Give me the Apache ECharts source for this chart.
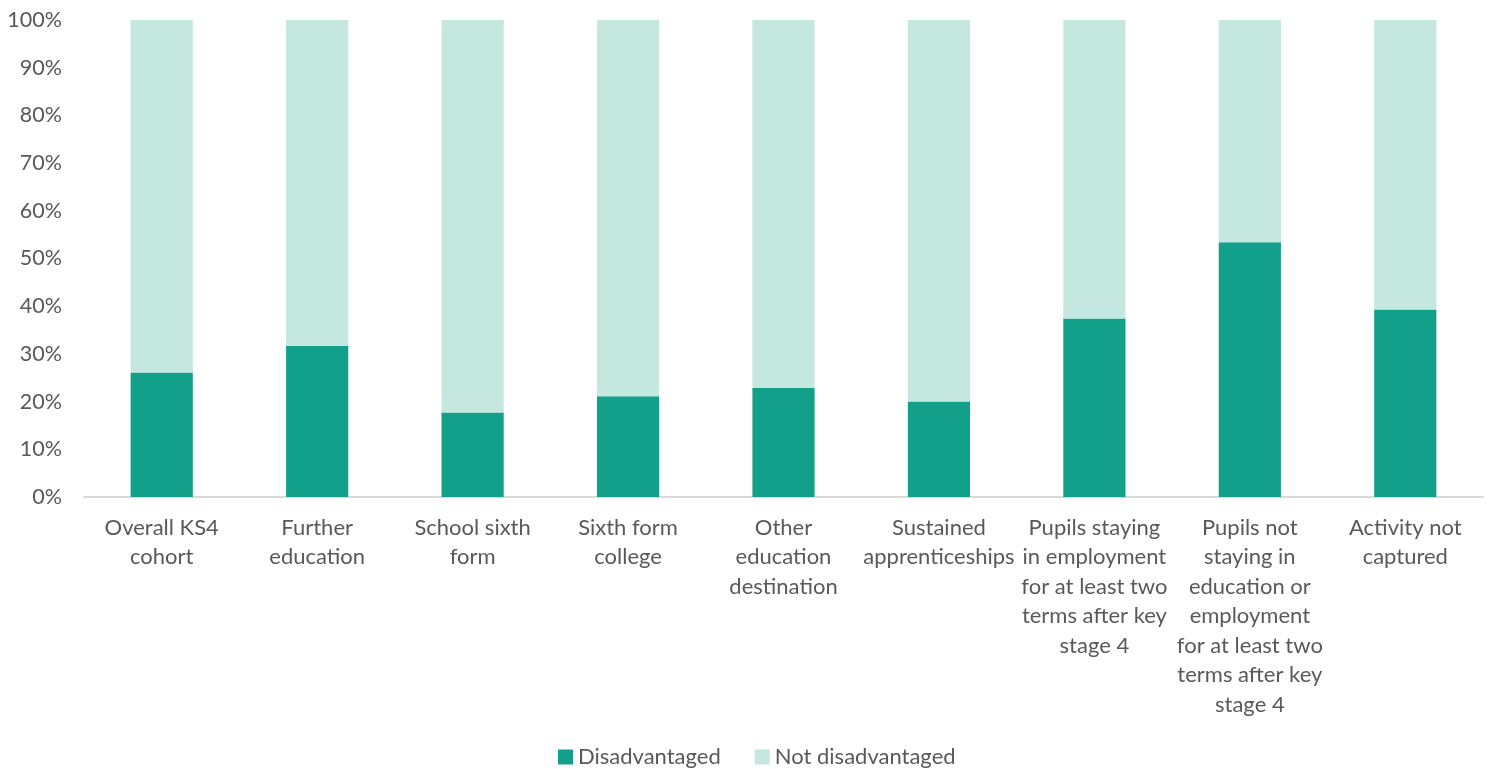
<!DOCTYPE html>
<html>
<head>
<meta charset="utf-8">
<script src="https://cdn.jsdelivr.net/npm/echarts@6/dist/echarts.min.js"></script>
<style>
  html, body { margin: 0; padding: 0; background: #fff; }
  #chart { width: 1488px; height: 769px; }
</style>
</head>
<body>
<div id="chart"></div>
<script>
// destination categories (line breaks as in the original)
const categories = [
  'Overall KS4\ncohort',
  'Further\neducation',
  'School sixth\nform',
  'Sixth form\ncollege',
  'Other\neducation\ndestination',
  'Sustained\napprenticeships',
  'Pupils staying\nin employment\nfor at least two\nterms after key\nstage 4',
  'Pupils not\nstaying in\neducation or\nemployment\nfor at least two\nterms after key\nstage 4',
  'Activity not\ncaptured'
];
const disadvantaged = [26.1, 31.7, 17.7, 21.1, 22.9, 20.0, 37.4, 53.4, 39.3];
const notDisadvantaged = [73.9, 68.3, 82.3, 78.9, 77.1, 80.0, 62.6, 46.6, 60.7];
const yTicks = [0, 10, 20, 30, 40, 50, 60, 70, 80, 90, 100];

const textColor = '#595959';
const font = 'Lato, "Open Sans", sans-serif';

let chart = echarts.init(document.getElementById('chart'));
chart.setOption({
  animation: false,
  textStyle: { fontFamily: font, color: textColor },
  grid: { left: 84, right: 5, top: 20, bottom: 272, containLabel: false },
  legend: {
    top: 746,
    left: 553,
    padding: [0, 5],
    itemWidth: 15,
    itemHeight: 15,
    itemGap: 34,
    icon: 'rect',
    textStyle: { fontSize: 22, color: textColor, fontFamily: font },
    data: ['Disadvantaged', 'Not disadvantaged']
  },
  xAxis: {
    type: 'category',
    data: categories,
    axisLine: { lineStyle: { color: '#d9d9d9', width: 2 } },
    axisTick: { show: false },
    axisLabel: {
      interval: 0,
      fontSize: 22,
      lineHeight: 29.5,
      margin: 16,
      color: textColor,
      fontFamily: font
    }
  },
  yAxis: {
    type: 'value',
    min: yTicks[0],
    max: yTicks[yTicks.length - 1],
    interval: 10,
    splitLine: { show: false },
    axisLine: { show: false },
    axisTick: { show: false },
    axisLabel: {
      fontSize: 21.5,
      margin: 22,
      color: textColor,
      fontFamily: font,
      formatter: v => v + '%'
    }
  },
  series: [
    {
      name: 'Disadvantaged',
      type: 'bar',
      stack: 'total',
      barWidth: '40%',
      itemStyle: { color: '#12a08a' },
      data: disadvantaged
    },
    {
      name: 'Not disadvantaged',
      type: 'bar',
      stack: 'total',
      barWidth: '40%',
      itemStyle: { color: '#c4e7e0' },
      data: notDisadvantaged
    }
  ]
});
</script>
</body>
</html>
